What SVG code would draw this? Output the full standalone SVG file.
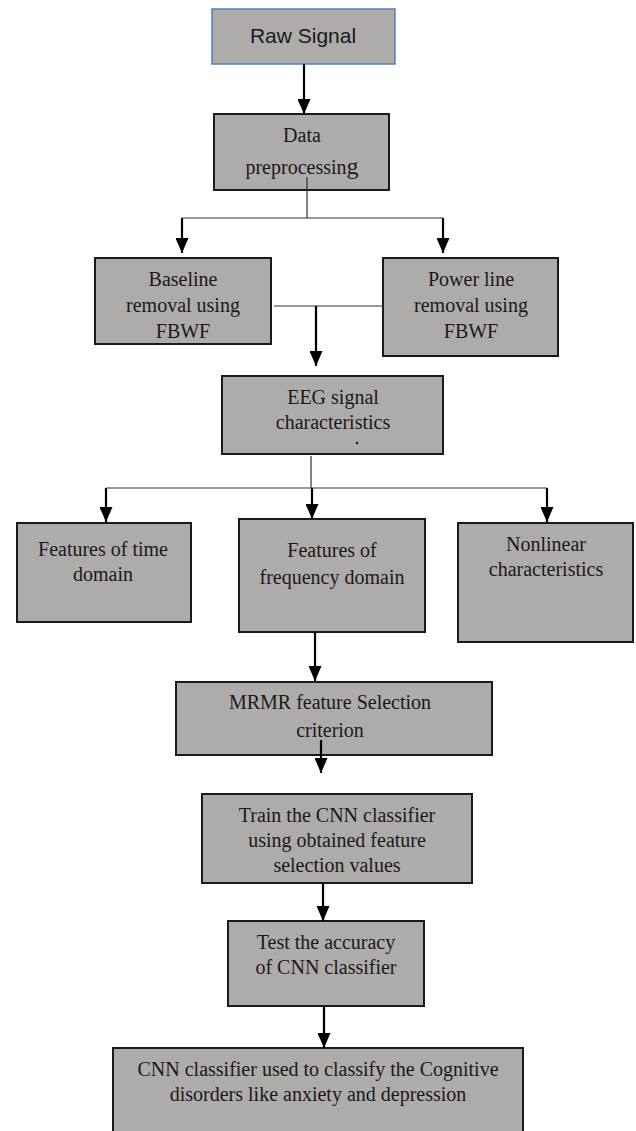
<svg xmlns="http://www.w3.org/2000/svg" width="636" height="1131" viewBox="0 0 636 1131">
<style>
.box{fill:#aeabab;stroke:#1a1a1a;stroke-width:2}
.t{font-family:"Liberation Serif","Times New Roman",serif;font-size:20px;fill:#1a1a1a;text-anchor:middle}
.thin{stroke:#333;stroke-width:1.2;fill:none}
.arr{stroke:#000;stroke-width:2.2;fill:none;marker-end:url(#ah)}
</style>
<defs>
<marker id="ah" viewBox="0 0 15 13" refX="15" refY="6.5" markerWidth="15" markerHeight="13" markerUnits="userSpaceOnUse" orient="auto">
<path d="M0,0 L15,6.5 L0,13 z" fill="#000"/>
</marker>
</defs>
<rect width="636" height="1131" fill="#fff"/>
<g id="raw">
<rect x="212" y="9" width="183" height="55" fill="#aeabab" stroke="#4f81bd" stroke-width="1.5"/>
<text x="303" y="43" style="font-family:'Liberation Sans',Arial,sans-serif;font-size:21px;fill:#1a1a1a;text-anchor:middle">Raw Signal</text>
</g>
<g id="preprocessing">
<rect class="box" x="214" y="114" width="175" height="76"/>
<text class="t" x="302" y="142">Data</text>
<text class="t" x="302" y="174">preprocessin<tspan font-size="24px">g</tspan></text>
</g>
<g id="baseline">
<rect class="box" x="95" y="258" width="176" height="86"/>
<text class="t" x="183" y="286">Baseline</text>
<text class="t" x="183" y="312">removal  using</text>
<text class="t" x="183" y="338">FBWF</text>
</g>
<g id="powerline">
<rect class="box" x="383" y="258" width="175" height="98"/>
<text class="t" x="471" y="286">Power line</text>
<text class="t" x="471" y="312">removal using</text>
<text class="t" x="471" y="338">FBWF</text>
</g>
<g id="eeg">
<rect class="box" x="222" y="376" width="221" height="78"/>
<text class="t" x="333" y="404">EEG signal</text>
<text class="t" x="333" y="429">characteristics</text>
<circle cx="357" cy="443" r="1.3" fill="#1a1a1a"/>
</g>
<g id="time">
<rect class="box" x="17" y="523" width="174" height="99"/>
<text class="t" x="103" y="556">Features of time</text>
<text class="t" x="103" y="581">domain</text>
</g>
<g id="frequency">
<rect class="box" x="239" y="519" width="186" height="113"/>
<text class="t" x="332" y="557">Features of</text>
<text class="t" x="332" y="584">frequency domain</text>
</g>
<g id="nonlinear">
<rect class="box" x="458" y="523" width="175" height="119"/>
<text class="t" x="546" y="551">Nonlinear</text>
<text class="t" x="546" y="576">characteristics</text>
</g>
<g id="mrmr">
<rect class="box" x="176" y="682" width="316" height="73"/>
<text class="t" x="330" y="709">MRMR feature Selection</text>
<text class="t" x="330" y="737">criterion</text>
</g>
<g id="train">
<rect class="box" x="202" y="794" width="270" height="89"/>
<text class="t" x="337" y="822">Train the CNN classifier</text>
<text class="t" x="337" y="847">using obtained feature</text>
<text class="t" x="337" y="872">selection values</text>
</g>
<g id="test">
<rect class="box" x="228" y="921" width="196" height="85"/>
<text class="t" x="326" y="949">Test the accuracy</text>
<text class="t" x="326" y="974">of CNN classifier</text>
</g>
<g id="classify">
<rect class="box" x="113" y="1048" width="410" height="100"/>
<text class="t" x="318" y="1076">CNN classifier used to classify the Cognitive</text>
<text class="t" x="318" y="1101">disorders like anxiety and depression</text>
</g>
<g id="connectors">
<path class="arr" d="M304,64 V114"/>
<path class="thin" d="M307,177 V218 M182,218 H443"/>
<path class="arr" d="M182,218 V253"/>
<path class="arr" d="M443,218 V253"/>
<path class="thin" d="M274,306 H383"/>
<path class="arr" d="M316,306 V366"/>
<path class="thin" d="M311,456 V488 M106,488 H547"/>
<path class="arr" d="M106,488 V522"/>
<path class="arr" d="M312,488 V519"/>
<path class="arr" d="M547,488 V522"/>
<path class="arr" d="M315,632 V681"/>
<path class="arr" d="M321,740 V773"/>
<path class="arr" d="M323,884 V921"/>
<path class="arr" d="M324,1007 V1048"/>
</g>
</svg>
